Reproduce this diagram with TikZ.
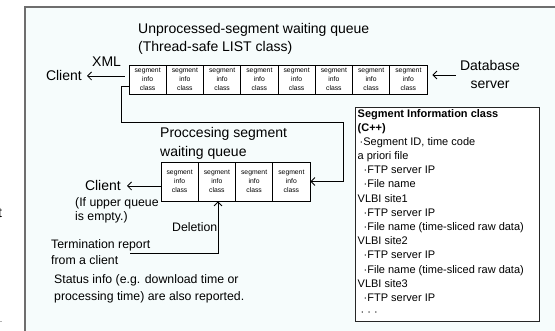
\documentclass[tikz,border=0pt]{standalone}
\usepackage{fontspec}
\setmainfont{Liberation Sans}
\usetikzlibrary{arrows.meta,calc}
\definecolor{bgc}{RGB}{246,252,252}
\definecolor{framec}{RGB}{110,110,110}
\begin{document}
\begin{tikzpicture}[x=1pt,y=-1pt,
  cell/.style={draw,line width=0.8pt,fill=white,minimum width=37.25pt,inner sep=0pt,align=center,font=\fontsize{6.8}{9.3}\selectfont},
  ucell/.style={cell,minimum height=29pt},
  lcell/.style={cell,minimum height=39pt},
  lbl/.style={inner sep=0pt,font=\fontsize{14}{18}\selectfont,align=left},
  sml/.style={inner sep=0pt,font=\fontsize{12.3}{16}\selectfont,align=left},
  arr/.style={line width=0.8pt,-{Straight Barb[length=4pt,width=8pt]}},
  conn/.style={line width=0.8pt}]
\useasboundingbox (0,0) rectangle (555,331);
% background and frame
\fill[bgc] (25,7) rectangle (555,331);
\draw[framec,line width=1.3pt] (25,331) -- (25,7) -- (555,7);
% fragments left of the frame
\node[anchor=base west,inner sep=0pt,font=\fontsize{14}{14}\selectfont] (frag) at (-2,218) {t};
\fill[gray!60] (0,321.5) rectangle (2,322.5);

% upper queue
\node[lbl,anchor=base west] (title1) at (138,51.3) {Unprocessed-segment waiting queue\\(Thread-safe LIST class)};
\foreach \i in {1,...,8}
  \node[ucell] (u\i) at ({129+37.25*(\i-0.5)},79.5) {segment\\info\\class};

\node[lbl,anchor=base west] (xml) at (92,67) {XML};
\node[lbl,anchor=base east] (c1) at (82,81) {Client};
\coordinate (c1s) at ([xshift=-4pt]u1.west);
\draw[arr] (c1s |- c1.east) -- ([xshift=5pt]c1.east);

\node[lbl,anchor=base,align=center] (db) at (490,89) {Database\\server};
\coordinate (dbend) at ([xshift=5pt]u8.east);
\draw[arr] ([xshift=-4pt]db.west) -- (dbend |- db.west);

% lower queue
\node[lbl,anchor=base west,font=\fontsize{14}{19}\selectfont] (title2) at (160,157) {Proccesing segment\\waiting queue};
\foreach \i in {1,...,4}
  \node[lcell] (l\i) at ({161+37.25*(\i-0.5)},181.5) {segment\\info\\class};

\coordinate (bk) at (343,122);
\draw[arr] ([yshift=-6.5pt]u1.west) -- ++(-7,0) |- (bk) |- (l4.east);

\node[lbl,anchor=base east] (c2) at (121,191) {Client};
\draw[arr] (l1.west |- c2.east) -- ([xshift=6pt]c2.east);
\node[sml,anchor=base west,font=\fontsize{12.3}{14}\selectfont] (ifq) at (75,220.5) {(If upper queue\\is empty.)};

\node[sml,anchor=base west] (del) at (172,231.5) {Deletion};
\node[sml,anchor=base west] (term) at (51,264.5) {Termination report\\from a client};
\coordinate (ts) at (130,253);
\coordinate (tc) at (218,253);
\draw[arr] (ts) -- (tc) -- (tc |- l2.south);

\node[sml,anchor=base west,font=\fontsize{12.3}{17}\selectfont] (stat) at (54,300.5) {Status info (e.g. download time or\\processing time) are also reported.};

% info box
\fill[gray!60] (356.2,108.2) rectangle (540.2,322.2);
\node[draw=black!85,line width=0.8pt,fill=white,anchor=north west,inner sep=0pt,minimum width=184pt,minimum height=214pt] (infobox) at (355,107) {};
\node[anchor=base west,inner sep=0pt,align=left,font=\fontsize{11}{14.2}\selectfont] (infotext) at (357.5,315.8) {%
\textbf{Segment Information class}\\
\textbf{(C++)}\\
\hspace*{2pt}·Segment ID, time code\\
a priori file\\
\hspace*{6pt}·FTP server IP\\
\hspace*{6pt}·File name\\
VLBI site1\\
\hspace*{6pt}·FTP server IP\\
\hspace*{6pt}·File name (time-sliced raw data)\\
VLBI site2\\
\hspace*{6pt}·FTP server IP\\
\hspace*{6pt}·File name (time-sliced raw data)\\
VLBI site3\\
\hspace*{6pt}·FTP server IP\\
\hspace*{3pt}· · ·};
\end{tikzpicture}
\end{document}
